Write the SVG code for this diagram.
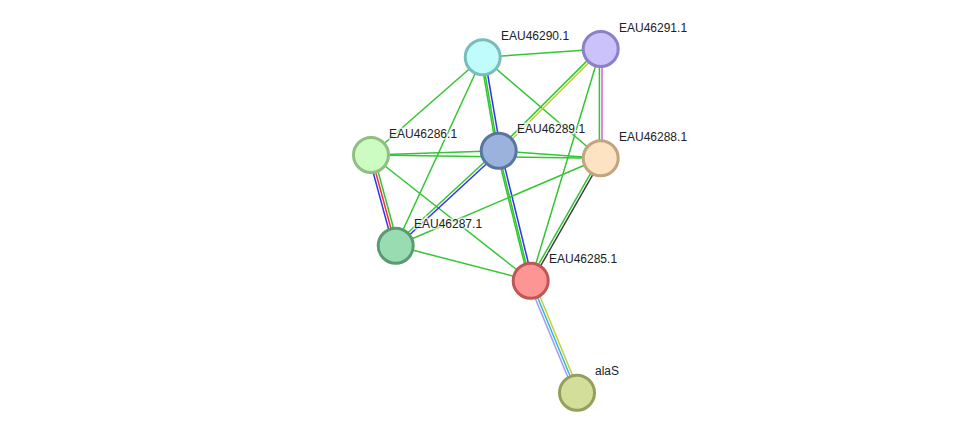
<svg xmlns="http://www.w3.org/2000/svg" width="976" height="438" viewBox="0 0 976 438">
<style>
.e{stroke-width:1.5;fill:none}
.g{stroke:#33c633}
.b{stroke:#3333f0}
.r{stroke:#f03333}
.m{stroke:#d55ed5}
.y{stroke:#c8cc33}
.k{stroke:#404040}
.l{stroke:#9c9cf5}
.c{stroke:#33b5d9}
.n{stroke-width:3}
text{font-family:"Liberation Sans",Arial,sans-serif;font-size:12px;fill:#222;stroke:#fff;stroke-width:3;stroke-opacity:0.7;paint-order:stroke}
</style>
<rect width="976" height="438" fill="#fff"/>
<g id="edges" class="e">
<line class="g" x1="482.7" y1="57.3" x2="600.7" y2="49"/>
<line class="g" x1="482.7" y1="57.3" x2="371" y2="155"/>
<line class="g" x1="482.7" y1="57.3" x2="395.7" y2="245.7"/>
<line class="g" x1="482.7" y1="57.3" x2="600.7" y2="158.3"/>
<line class="g" x1="480.7" y1="57.6" x2="496.7" y2="151.0"/>
<line class="g" x1="482.2" y1="57.4" x2="498.2" y2="150.8"/>
<line class="b" x1="484.7" y1="57.0" x2="500.7" y2="150.4"/>
<line class="g" x1="599.8" y1="48.1" x2="497.8" y2="149.8"/>
<line class="y" x1="601.6" y1="49.9" x2="499.6" y2="151.6"/>
<line class="g" x1="599.4" y1="49" x2="599.4" y2="158.3"/>
<line class="m" x1="602.0" y1="49" x2="602.0" y2="158.3"/>
<line class="g" x1="600.7" y1="49" x2="530.7" y2="280.7"/>
<line class="g" x1="371" y1="155" x2="498.7" y2="150.7"/>
<line class="g" x1="371" y1="155" x2="600.7" y2="158.3"/>
<line class="b" x1="368.6" y1="155.7" x2="393.3" y2="246.4"/>
<line class="r" x1="371" y1="155" x2="395.7" y2="245.7"/>
<line class="g" x1="373.4" y1="154.3" x2="398.1" y2="245.0"/>
<line class="g" x1="371" y1="155" x2="530.7" y2="280.7"/>
<line class="g" x1="498.7" y1="150.7" x2="600.7" y2="158.3"/>
<line class="g" x1="497.8" y1="149.7" x2="394.8" y2="244.7"/>
<line class="b" x1="499.6" y1="151.7" x2="396.6" y2="246.7"/>
<line class="g" x1="496.8" y1="151.2" x2="528.8" y2="281.2"/>
<line class="g" x1="498.2" y1="150.8" x2="530.2" y2="280.8"/>
<line class="b" x1="500.6" y1="150.2" x2="532.6" y2="280.2"/>
<line class="g" x1="600.7" y1="158.3" x2="395.7" y2="245.7"/>
<line class="g" x1="599.6" y1="157.7" x2="529.6" y2="280.1"/>
<line class="k" x1="601.8" y1="158.9" x2="531.8" y2="281.3"/>
<line class="g" x1="395.7" y1="245.7" x2="530.7" y2="280.7"/>
<line class="l" x1="528.4" y1="281.7" x2="574.7" y2="393.7"/>
<line class="c" x1="530.7" y1="280.7" x2="577" y2="392.7"/>
<line class="y" x1="533.0" y1="279.7" x2="579.3" y2="391.7"/>
</g>
<g id="EAU46290.1"><circle class="n" cx="482.7" cy="57.3" r="17.5" fill="#c0fcfc" stroke="#78bdbd"/><text x="501" y="40">EAU46290.1</text></g>
<g id="EAU46291.1"><circle class="n" cx="600.7" cy="49" r="17.5" fill="#cbc2fb" stroke="#8d80c6"/><text x="619" y="32">EAU46291.1</text></g>
<g id="EAU46286.1"><circle class="n" cx="371" cy="155" r="17.5" fill="#cdfcc2" stroke="#8fbf82"/><text x="389" y="138">EAU46286.1</text></g>
<g id="EAU46289.1"><circle class="n" cx="498.7" cy="150.7" r="17.5" fill="#9ab2dc" stroke="#58779f"/><text x="517" y="133">EAU46289.1</text></g>
<g id="EAU46288.1"><circle class="n" cx="600.7" cy="158.3" r="17.5" fill="#fde3c2" stroke="#c2a57f"/><text x="619" y="141">EAU46288.1</text></g>
<g id="EAU46287.1"><circle class="n" cx="395.7" cy="245.7" r="17.5" fill="#9adcb2" stroke="#5a9a70"/><text x="414" y="228">EAU46287.1</text></g>
<g id="EAU46285.1"><circle class="n" cx="530.7" cy="280.7" r="17.5" fill="#fd9595" stroke="#c05656"/><text x="549" y="263">EAU46285.1</text></g>
<g id="alaS"><circle class="n" cx="577" cy="392.7" r="17.5" fill="#d4de9b" stroke="#959e5a"/><text x="595" y="375">alaS</text></g>
</svg>
